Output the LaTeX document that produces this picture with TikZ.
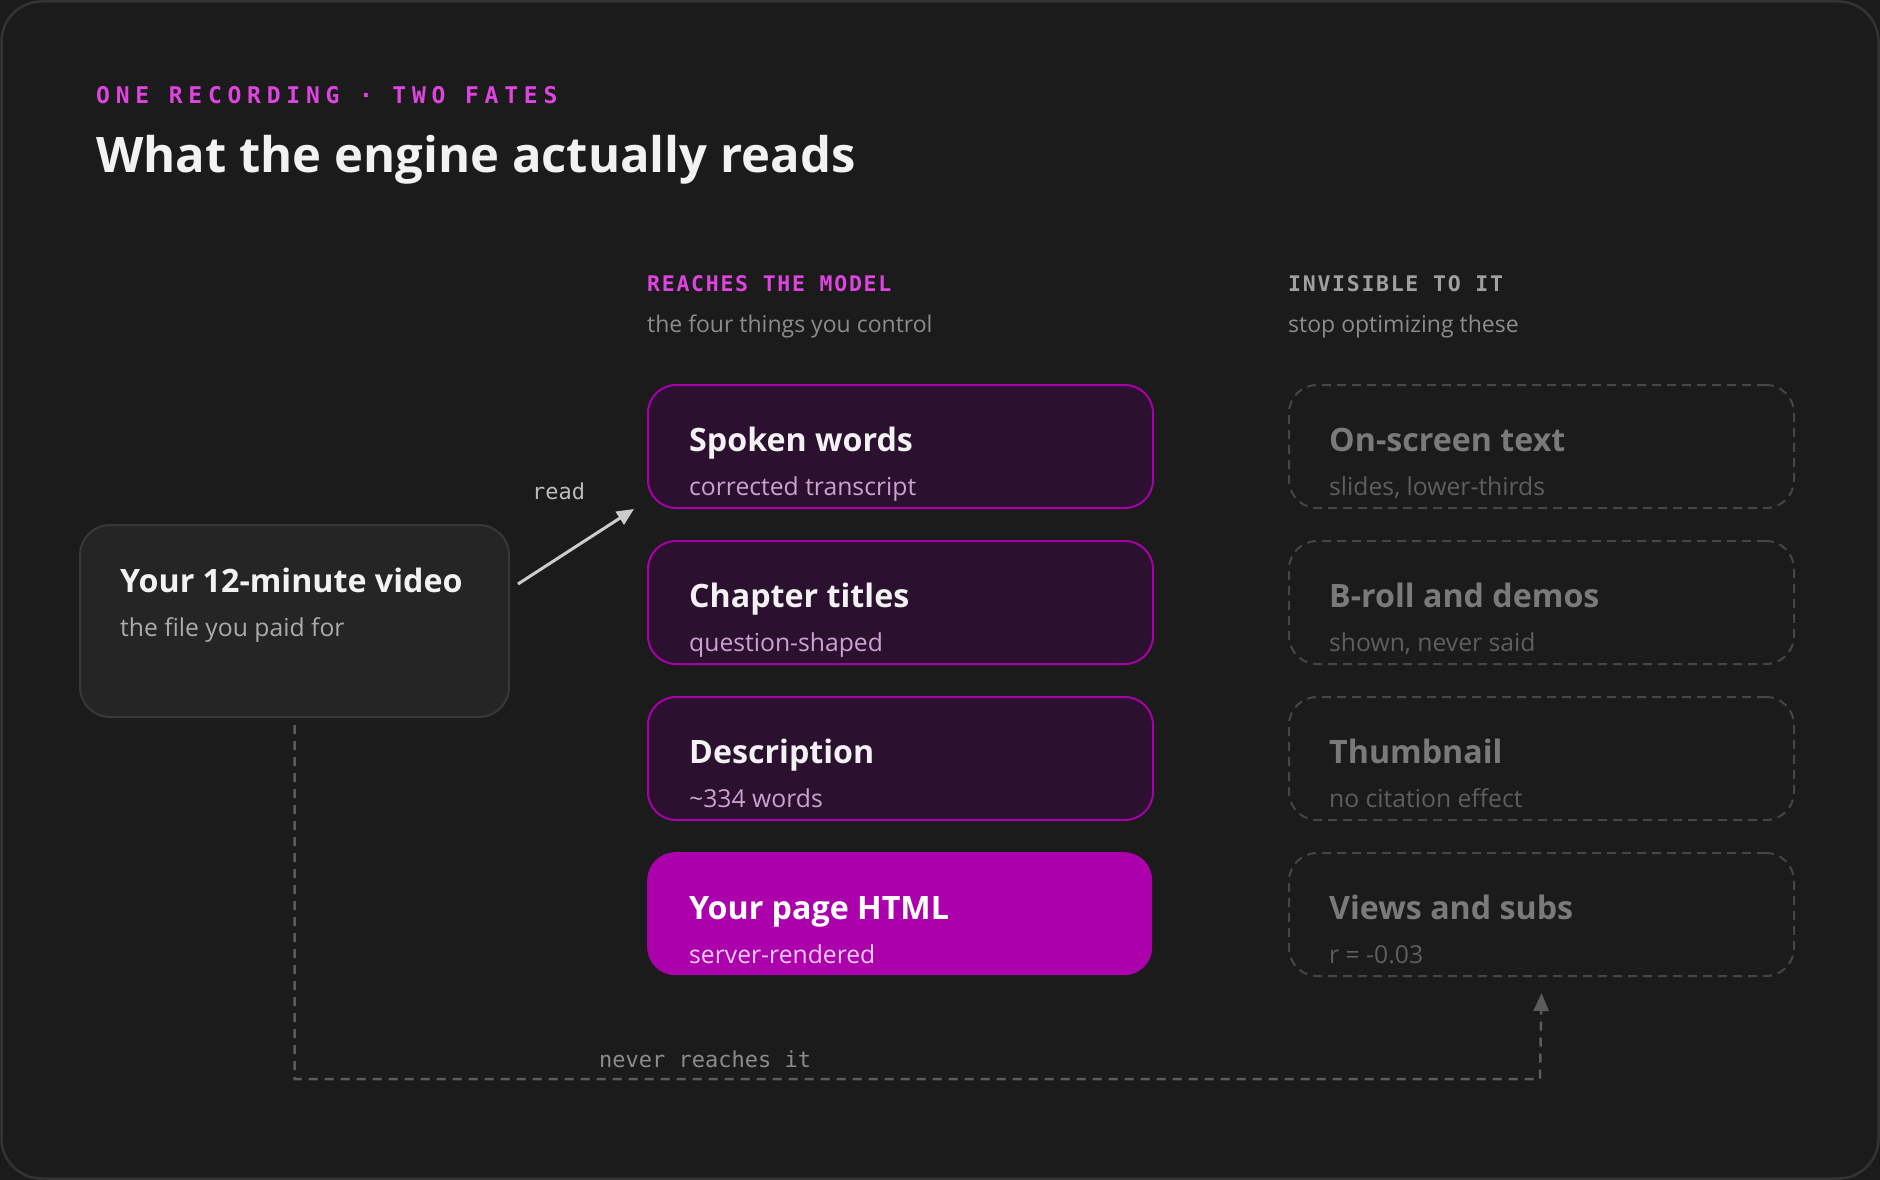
\documentclass[tikz,border=0pt]{standalone}
\usepackage{fontspec}
\setmainfont{Open Sans}
\newfontfamily\monofont{DejaVu Sans Mono}
\newfontfamily\monowide[LetterSpace=25]{DejaVu Sans Mono Bold}
\newfontfamily\monolab[LetterSpace=8]{DejaVu Sans Mono Bold}
\usetikzlibrary{arrows.meta}
\definecolor{bg}{HTML}{1B1B1B}
\definecolor{frame}{HTML}{333333}
\definecolor{vidfill}{HTML}{252525}
\definecolor{vidline}{HTML}{383838}
\definecolor{mag}{HTML}{A800A8}
\definecolor{magfill}{HTML}{2C1030}
\definecolor{magbright}{HTML}{AD00AD}
\definecolor{pinktxt}{HTML}{E044E0}
\definecolor{lavsub}{HTML}{CDA2D1}
\definecolor{brightsub}{HTML}{F7CDF7}
\definecolor{whitetxt}{HTML}{F2F2F2}
\definecolor{graytxt}{HTML}{8C8C8C}
\definecolor{lightgray}{HTML}{ABABAB}
\definecolor{headgray}{HTML}{A0A0A0}
\definecolor{ghostline}{HTML}{464646}
\definecolor{ghosttitle}{HTML}{7A7A7A}
\definecolor{ghostsub}{HTML}{5E5E5E}
\definecolor{arrowc}{HTML}{CCCCCC}
\definecolor{readc}{HTML}{BBBBBB}
\definecolor{connc}{HTML}{5C5C5C}
\tikzset{
  txt/.style={inner sep=0pt, anchor=base west},
  cardbox/.style={rectangle, rounded corners=28pt, minimum width=505pt, minimum height=123pt, anchor=north west, inner sep=0pt},
  reachbox/.style={cardbox, draw=mag, line width=2pt, fill=magfill},
  htmlbox/.style={cardbox, fill=magbright},
  ghostbox/.style={cardbox, draw=ghostline, line width=2pt, dash pattern=on 9pt off 6pt},
  cardtitle/.style={txt, font=\fontsize{32.2}{38}\bfseries\selectfont},
  cardsub/.style={txt, font=\fontsize{24.7}{28}\selectfont},
  collabel/.style={txt, font=\fontsize{21.5}{26}\monolab},
  colsub/.style={txt, text=graytxt, font=\fontsize{23}{26}\selectfont},
  readarrow/.style={draw=arrowc, line width=3pt, -{Triangle[length=17pt,width=15pt]}},
  neverconn/.style={draw=connc, line width=2.5pt, dash pattern=on 9pt off 7pt, -{Triangle[length=18pt,width=15pt]}},
  monolabel/.style={txt, font=\fontsize{22}{26}\monofont}
}
\begin{document}
\begin{tikzpicture}[x=1pt,y=-1pt]
\useasboundingbox (0,0) rectangle (1880,1180);
\fill[bg] (0,0) rectangle (1880,1180);
\draw[frame, line width=2.5pt, rounded corners=40pt] (1.5,1.5) rectangle (1878.5,1178.5);

% header
\node[txt, text=pinktxt, font=\fontsize{23}{28}\monowide] (kicker) at (96,104) {ONE RECORDING · TWO FATES};
\node[txt, text=whitetxt, font=\fontsize{49}{56}\bfseries\selectfont] (headline) at (96,172) {What the engine actually reads};

% column heads
\node[collabel, text=pinktxt] (reachhead) at (647,291) {REACHES THE MODEL};
\node[colsub] (reachsub) at (647,332) {the four things you control};
\node[collabel, text=headgray] (invhead) at (1288,291) {INVISIBLE TO IT};
\node[colsub] (invsub) at (1288,332) {stop optimizing these};

% source box
\node[rectangle, rounded corners=30pt, draw=vidline, line width=2pt, fill=vidfill, minimum width=429pt, minimum height=192pt, anchor=north west] (vid) at (79,524) {};
\node[cardtitle, text=whitetxt] (vidtitle) at (120,592) {Your 12-minute video};
\node[cardsub, text=lightgray] (vidsub) at (120,636) {the file you paid for};

% reaches boxes
\node[reachbox] (b1) at (647,384) {};
\node[reachbox] (b2) at (647,540) {};
\node[reachbox] (b3) at (647,696) {};
\node[htmlbox] (b4) at (647,852) {};
\node[cardtitle, text=whitetxt] (b1t) at (689,451) {Spoken words};
\node[cardsub, text=lavsub] (b1s) at (689,495) {corrected transcript};
\node[cardtitle, text=whitetxt] (b2t) at (689,607) {Chapter titles};
\node[cardsub, text=lavsub] (b2s) at (689,651) {question-shaped};
\node[cardtitle, text=whitetxt] (b3t) at (689,763) {Description};
\node[cardsub, text=lavsub] (b3s) at (689,807) {\textasciitilde334 words};
\node[cardtitle, text=white] (b4t) at (689,919) {Your page HTML};
\node[cardsub, text=brightsub] (b4s) at (689,963) {server-rendered};

% invisible boxes
\node[ghostbox] (g1) at (1288,384) {};
\node[ghostbox] (g2) at (1288,540) {};
\node[ghostbox] (g3) at (1288,696) {};
\node[ghostbox] (g4) at (1288,852) {};
\node[cardtitle, text=ghosttitle] (g1t) at (1329,451) {On-screen text};
\node[cardsub, text=ghostsub] (g1s) at (1329,495) {slides, lower-thirds};
\node[cardtitle, text=ghosttitle] (g2t) at (1329,607) {B-roll and demos};
\node[cardsub, text=ghostsub] (g2s) at (1329,651) {shown, never said};
\node[cardtitle, text=ghosttitle] (g3t) at (1329,763) {Thumbnail};
\node[cardsub, text=ghostsub] (g3s) at (1329,807) {no citation effect};
\node[cardtitle, text=ghosttitle] (g4t) at (1329,919) {Views and subs};
\node[cardsub, text=ghostsub] (g4s) at (1329,963) {r = -0.03};

% read arrow
\draw[readarrow] ([shift={(8,60)}]vid.north east) -- ([shift={(-13,0)}]b1.south west);
\node[monolabel, text=readc] (readlbl) at (532,499) {read};

% never reaches connector
\coordinate (corner) at (1540,1079);
\draw[neverconn] ([shift={(0,7)}]vid.south) |- (corner) -- ([shift={(0,16)}]g4.south);
\node[monolabel, text=graytxt] (neverlbl) at (599,1067) {never reaches it};
\end{tikzpicture}
\end{document}
